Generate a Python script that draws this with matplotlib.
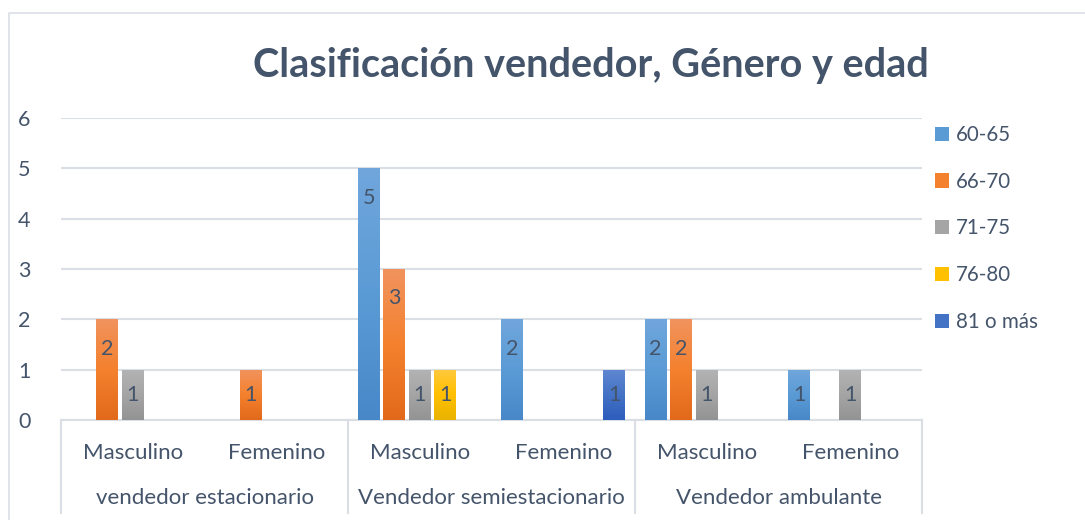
import numpy as np
import matplotlib
matplotlib.use("Agg")
import matplotlib.pyplot as plt
from matplotlib.patches import Patch
from matplotlib.lines import Line2D
from matplotlib.colors import to_rgb

plt.rcParams['font.family'] = ['Lato', 'DejaVu Sans']

groups = ["vendedor estacionario", "Vendedor semiestacionario", "Vendedor ambulante"]
genders = ["Masculino", "Femenino"]
series = ["60-65", "66-70", "71-75", "76-80", "81 o más"]
v_60_65 = [0, 0, 5, 2, 2, 1]
v_66_70 = [2, 1, 3, 0, 2, 0]
v_71_75 = [1, 0, 1, 0, 1, 1]
v_76_80 = [0, 0, 1, 0, 0, 0]
v_81_mas = [0, 0, 0, 1, 0, 0]
values = [v_60_65, v_66_70, v_71_75, v_76_80, v_81_mas]

grads = [("#70a6dc", "#5b9bd5", "#4888c9"),
         ("#f1935e", "#f4812e", "#e2691b"),
         ("#b3b3b3", "#a5a5a5", "#939393"),
         ("#ffc93f", "#ffc000", "#e9b300"),
         ("#6088d2", "#4472c4", "#2d5dbd")]
mids = [g[1] for g in grads]

TXT = "#44546A"
GRID = "#dadfe6"

W, H = 1085, 520
fig = plt.figure(figsize=(W / 100, H / 100), dpi=100)
ax = fig.add_axes([61 / W, 1 - 420 / H, (922 - 61) / W, (420 - 118) / H])

n = len(series)
ncat = len(v_60_65)
x = np.arange(ncat)
step = 0.178
bw = 0.153

for i, (vals, g) in enumerate(zip(values, grads)):
    xs = x + (i - (n - 1) / 2) * step
    bars = ax.bar(xs, vals, width=bw, color=g[1], zorder=3, linewidth=0)
    top, mid, bot = (np.array(to_rgb(c)) for c in g)
    t = np.linspace(0, 1, 100)[:, None]
    grad = np.where(t < 0.5, top + (mid - top) * (t / 0.5), mid + (bot - mid) * ((t - 0.5) / 0.5))
    img = grad[:, None, :]
    for b, v in zip(bars, vals):
        if v <= 0:
            b.set_visible(False)
            continue
        bx, by, bwid, bh = b.get_x(), b.get_y(), b.get_width(), b.get_height()
        im = ax.imshow(img, extent=[bx, bx + bwid, by, by + bh], aspect='auto',
                       origin='upper', zorder=4, interpolation='bilinear')
        im.set_clip_path(b)
        ax.text(b.get_x() + bwid / 2, v - min(0.58, v / 2), str(v), ha='center', va='center',
                fontsize=15.5, color=TXT, zorder=5)

ax.set_xlim(-0.5, ncat - 0.5)
ax.set_ylim(0, 6)
ax.set_yticks(range(0, 7))
ax.yaxis.grid(True, color=GRID, linewidth=1.5, zorder=0)
ax.set_axisbelow(True)
for s in ["top", "right", "left"]:
    ax.spines[s].set_visible(False)
ax.spines["bottom"].set_color(GRID)
ax.spines["bottom"].set_linewidth(1.5)
ax.tick_params(axis='y', length=0, pad=22, labelsize=15.5, labelcolor=TXT)
ax.set_xticks([])

tr = ax.get_xaxis_transform()
for k in range(ncat):
    ax.text(x[k], -0.109, genders[k % 2], transform=tr, ha='center', va='center',
            fontsize=16, color=TXT)
for gi, gname in enumerate(groups):
    ax.text(2 * gi + 0.5, -0.258, gname, transform=tr, ha='center', va='center',
            fontsize=16, color=TXT)
for xs in [-0.5, 1.5, 3.5, 5.5]:
    ax.plot([xs, xs], [0, -0.308], transform=tr, color=GRID, linewidth=1.5, clip_on=False)

fig.text(591 / W, 1 - 65 / H, "Clasificación vendedor, Género y edad", ha='center', va='center',
         fontsize=28.5, fontweight='bold', color=TXT)

handles = [Patch(facecolor=c, edgecolor='none') for c in mids]
leg = fig.legend(handles, series, loc='upper left', bbox_to_anchor=(935 / W, 1 - 125 / H),
                 frameon=False, fontsize=14.8, labelcolor=TXT, handlelength=0.7, handleheight=0.7,
                 handletextpad=0.3, labelspacing=1.3, borderaxespad=0, borderpad=0)

fig.add_artist(Line2D([9 / W, 9 / W, 1], [0, 1 - 13 / H, 1 - 13 / H], transform=fig.transFigure,
                      color=GRID, linewidth=1.2))

fig.savefig("out.png", dpi=100)
